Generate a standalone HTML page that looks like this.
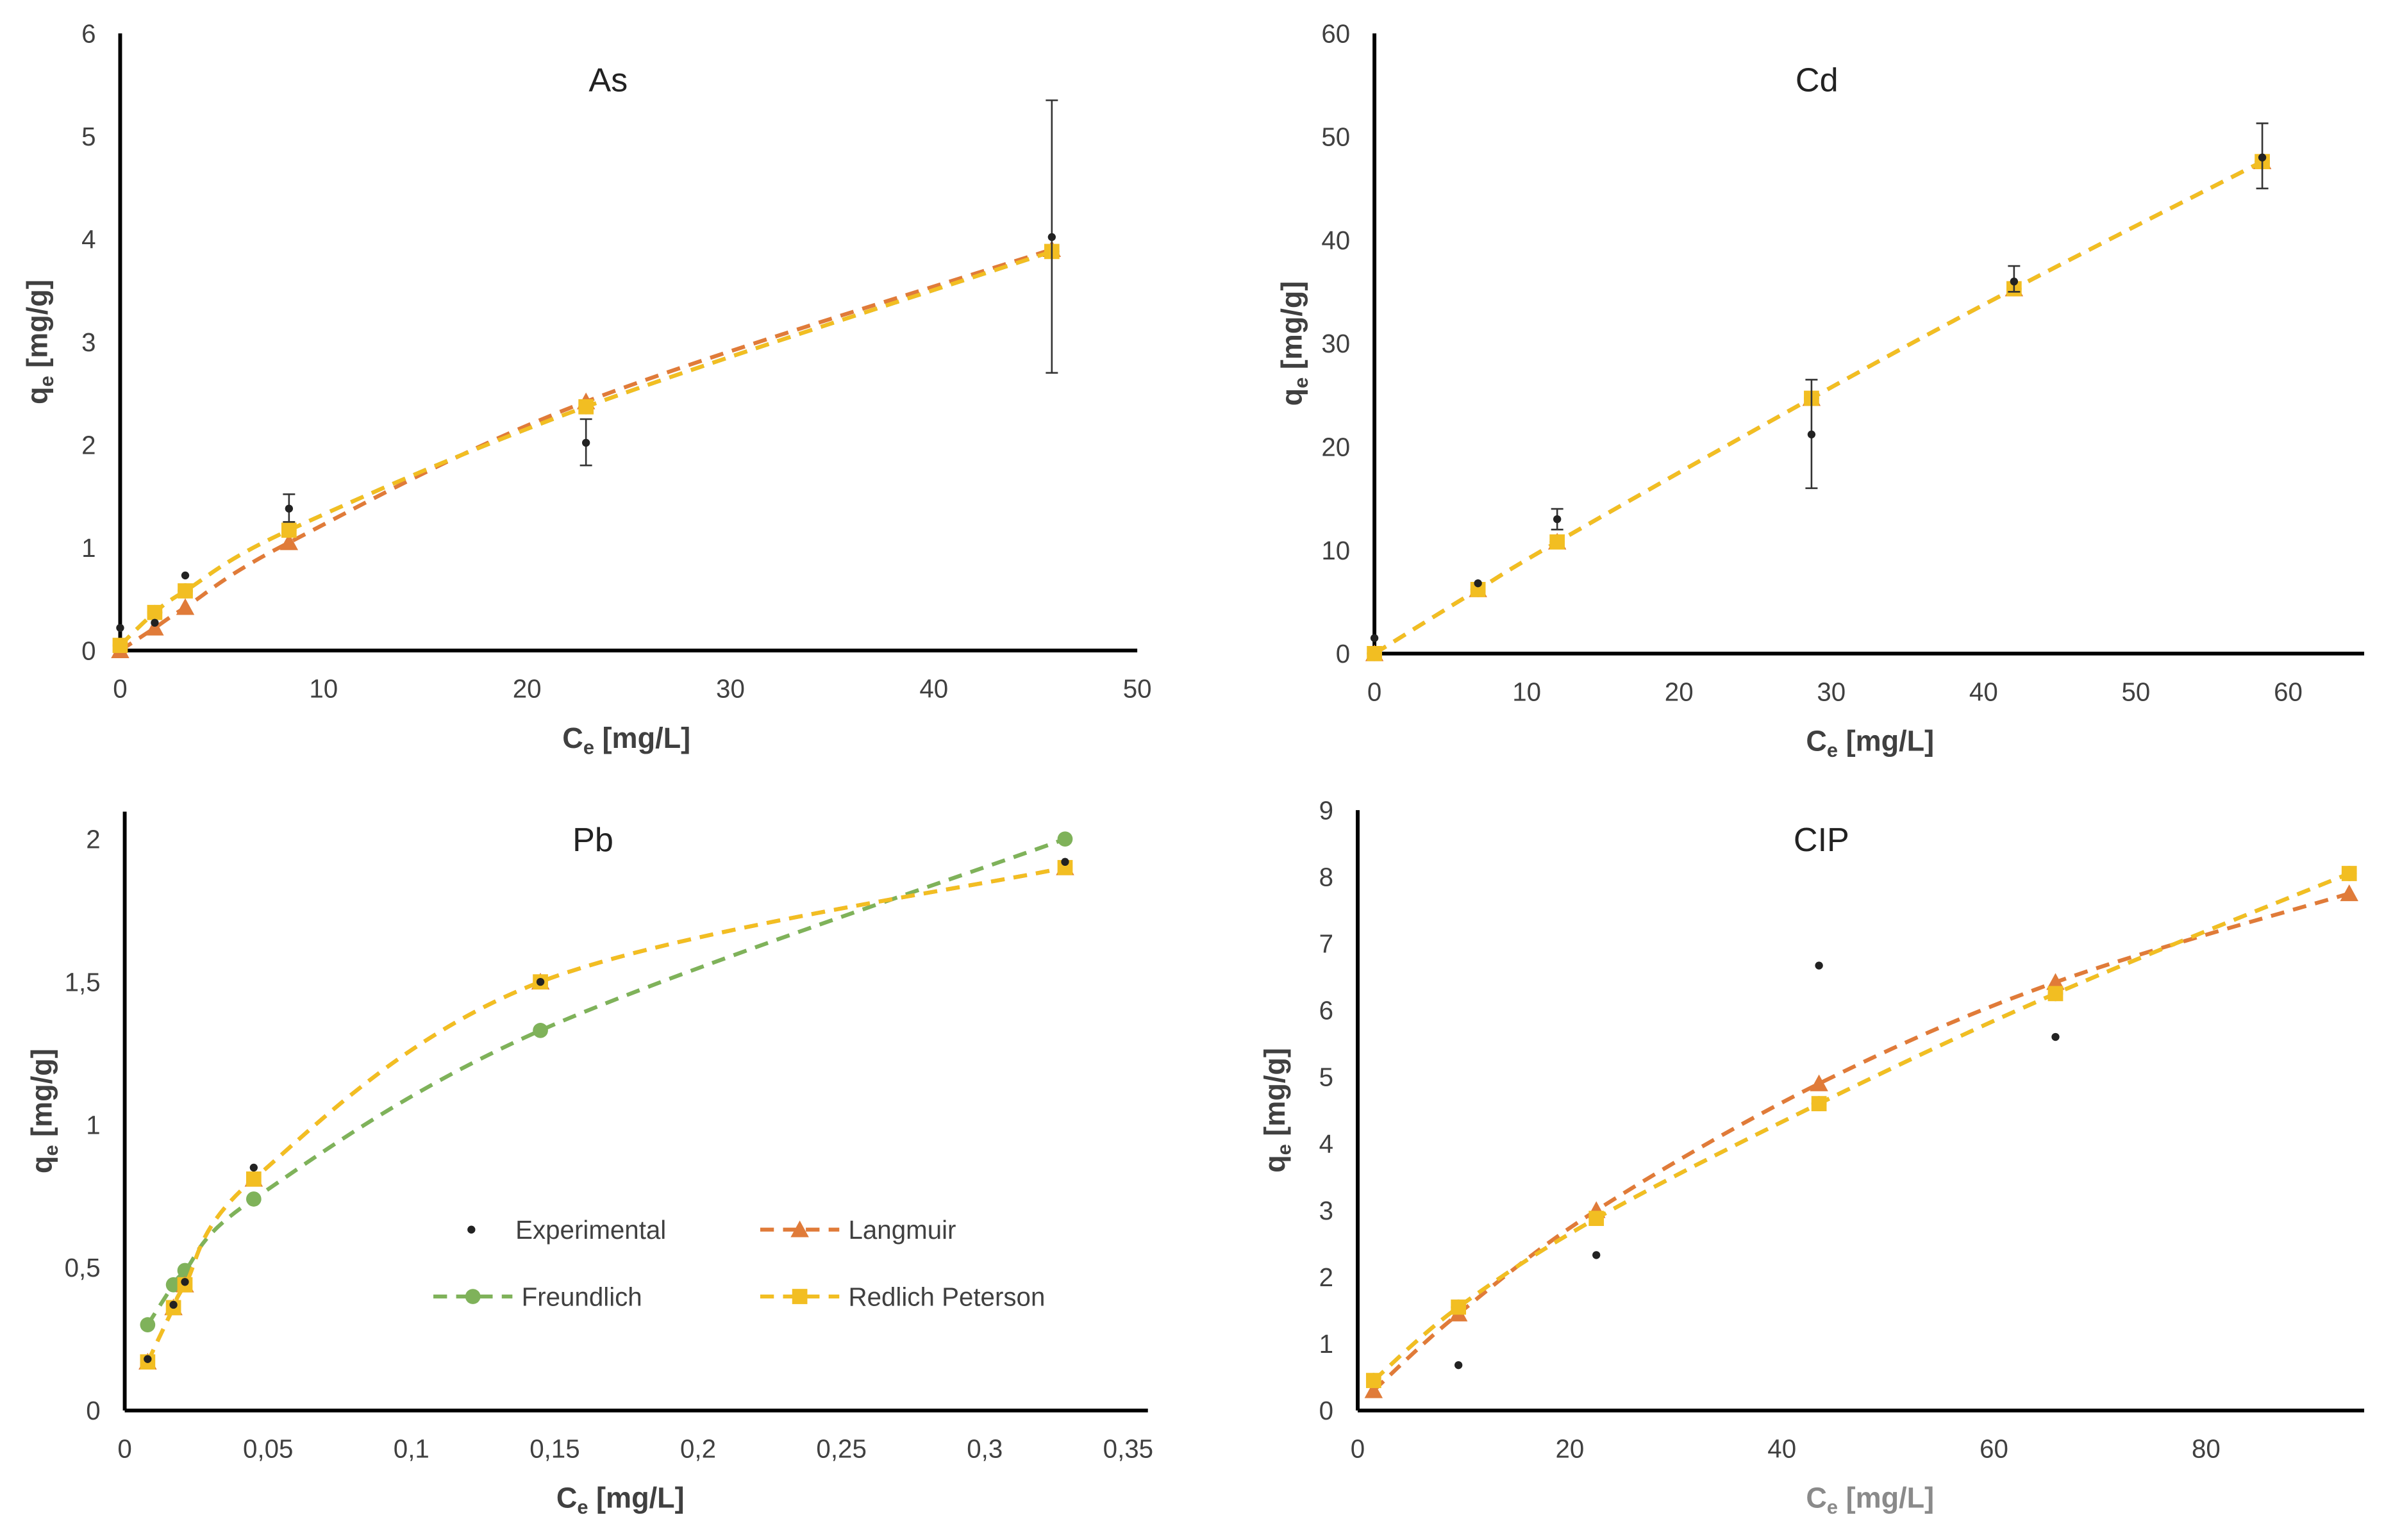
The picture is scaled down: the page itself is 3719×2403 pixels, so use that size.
<!DOCTYPE html>
<html><head><meta charset="utf-8"><style>
html,body{margin:0;padding:0;background:#fff}
svg{display:block}
text{font-family:"Liberation Sans",sans-serif}
</style></head><body>
<svg id="fig" xmlns="http://www.w3.org/2000/svg" width="3719" height="2403" viewBox="0 0 1568 1013.2"></svg>
<script>
// ---- data ----
const asX = [0, 1.7, 3.2, 8.3, 22.9, 45.8];
const asExp = [0.22, 0.27, 0.73, 1.38, 2.02, 4.02];
const asErrLo = [null, null, null, 1.25, 1.8, 2.7];
const asErrHi = [null, null, null, 1.52, 2.25, 5.35];
const asLang = [0, 0.22, 0.42, 1.05, 2.42, 3.9];
const asFreu = [0.05, 0.37, 0.58, 1.17, 2.37, 3.88];
const asRP = [0.05, 0.37, 0.58, 1.17, 2.37, 3.88];

const cdX = [0, 6.8, 12, 28.7, 42, 58.3];
const cdExp = [1.5, 6.8, 13, 21.2, 36, 48];
const cdErrLo = [null, null, 12, 16, 35, 45];
const cdErrHi = [null, null, 14, 26.5, 37.5, 51.3];
const cdLang = [0, 6.2, 10.8, 24.7, 35.3, 47.6];
const cdFreu = [0, 6.2, 10.8, 24.7, 35.3, 47.6];
const cdRP = [0, 6.2, 10.8, 24.7, 35.3, 47.6];

const pbX = [0.008, 0.017, 0.021, 0.045, 0.145, 0.328];
const pbExp = [0.18, 0.37, 0.45, 0.85, 1.5, 1.92];
const pbLang = [0.17, 0.36, 0.44, 0.81, 1.5, 1.9];
const pbFreu = [0.3, 0.44, 0.49, 0.74, 1.33, 2.0];
const pbRP = [0.17, 0.36, 0.44, 0.81, 1.5, 1.9];

const cipX = [1.5, 9.5, 22.5, 43.5, 65.8, 93.5];
const cipExp = [null, 0.68, 2.33, 6.67, 5.6, null];
const cipLang = [0.3, 1.45, 3.0, 4.9, 6.42, 7.75];
const cipFreu = [0.45, 1.55, 2.88, 4.6, 6.25, 8.05];
const cipRP = [0.45, 1.55, 2.88, 4.6, 6.25, 8.05];

const asXTicks = ["0","10","20","30","40","50"];
const asYTicks = ["0","1","2","3","4","5","6"];
const cdXTicks = ["0","10","20","30","40","50","60"];
const cdYTicks = ["0","10","20","30","40","50","60"];
const pbXTicks = ["0","0,05","0,1","0,15","0,2","0,25","0,3","0,35"];
const pbYTicks = ["0","0,5","1","1,5","2"];
const cipXTicks = ["0","20","40","60","80"];
const cipYTicks = ["0","1","2","3","4","5","6","7","8","9"];

const C = {lang:"#E07B39", freu:"#7FB25A", rp:"#F2BE22", exp:"#222"};
const NS = "http://www.w3.org/2000/svg";
const svg = document.getElementById('fig');
function el(tag, attrs, parent){
  const e = document.createElementNS(NS, tag);
  for (const k in attrs) e.setAttribute(k, attrs[k]);
  (parent||svg).appendChild(e); return e;
}
function catmull(pts){
  if(pts.length<2) return '';
  let d = 'M'+pts[0][0]+','+pts[0][1];
  for(let i=0;i<pts.length-1;i++){
    const p0=pts[Math.max(0,i-1)],p1=pts[i],p2=pts[i+1],p3=pts[Math.min(pts.length-1,i+2)];
    const c1=[p1[0]+(p2[0]-p0[0])/6,p1[1]+(p2[1]-p0[1])/6];
    const c2=[p2[0]-(p3[0]-p1[0])/6,p2[1]-(p3[1]-p1[1])/6];
    d+=' C'+c1[0]+','+c1[1]+' '+c2[0]+','+c2[1]+' '+p2[0]+','+p2[1];
  }
  return d;
}
function marker(g, kind, x, y){
  let m;
  if(kind==='lang'){ m = el('path',{d:`M${x},${y-6} L${x+6},${y+5} L${x-6},${y+5} Z`,fill:C.lang},g); }
  else if(kind==='freu'){ m = el('circle',{cx:x,cy:y,r:5,fill:C.freu},g); }
  else if(kind==='rp'){ m = el('rect',{x:x-5,y:y-5,width:10,height:10,fill:C.rp},g); }
  else { m = el('circle',{cx:x,cy:y,r:2.6,fill:C.exp},g); }
  
  
}
function panel(p){
  const g = el('g',{});
  
  
  const sx = v => p.x0 + (v - 0)/(p.xmaxTick)*(p.x1 - p.x0);
  const sy = v => p.y0 - v/(p.ymaxTick)*(p.y0 - p.y1);
  // tick labels
  p.xt.forEach((t,i)=>{
    const v = i*p.xmaxTick/(p.xt.length-1);
    const tx = el('text',{x:sx(v),y:p.y0+31,'text-anchor':'middle','font-size':17,fill:'#404040'},g);
    tx.textContent=t;
    
    
  });
  p.yt.forEach((t,i)=>{
    const v = i*p.ymaxTick/(p.yt.length-1);
    const ty = el('text',{x:p.x0-16,y:sy(v)+6,'text-anchor':'end','font-size':17,fill:'#404040'},g);
    ty.textContent=t;
    
    
  });
  // axes
  const ax = el('line',{x1:p.x0,y1:p.y0,x2:p.xend,y2:p.y0,stroke:'#000','stroke-width':2.5},g);
  
  
  const ay = el('line',{x1:p.x0,y1:p.y0,x2:p.x0,y2:p.ytop,stroke:'#000','stroke-width':2.5},g);
  
  
  // title
  const tt = el('text',{x:p.tx,y:p.ty,'text-anchor':'middle','font-size':22,fill:'#222'},g);
  tt.textContent=p.title;
  
  
  // axis titles
  const xtt = el('text',{x:p.xtx,y:p.y0+64,'text-anchor':'middle','font-size':19,'font-weight':'bold',fill:p.xtc||'#404040'},g);
  xtt.innerHTML='C<tspan font-size="13" dy="4">e</tspan><tspan dy="-4"> [mg/L]</tspan>';
  
  
  const ytt = el('text',{x:0,y:0,'text-anchor':'middle','font-size':19,'font-weight':'bold',fill:'#404040',transform:`translate(${p.x0-48},${(p.y0+p.ytop)/2}) rotate(-90)`},g);
  ytt.innerHTML='q<tspan font-size="13" dy="4">e</tspan><tspan dy="-4"> [mg/g]</tspan>';
  
  
  // series
  const series=[['freu',p.freu],['lang',p.lang],['rp',p.rp]];
  series.forEach(([k,arr])=>{
    const pts = p.xs.map((x,i)=>[sx(x),sy(arr[i])]);
    const path = el('path',{d:catmull(pts),fill:'none',stroke:C[k],'stroke-width':2.6,'stroke-dasharray':'9,6'},g);
    
    
    pts.forEach(q=>marker(g,k,q[0],q[1]));
  });
  // experimental + errors
  p.xs.forEach((x,i)=>{
    if(p.exp[i]==null) return;
    if(p.lo && p.lo[i]!=null){
      const X=sx(x), a=sy(p.lo[i]), b=sy(p.hi[i]);
      const eb = el('path',{d:`M${X},${a} L${X},${b} M${X-4},${a} L${X+4},${a} M${X-4},${b} L${X+4},${b}`,stroke:'#333','stroke-width':1.1,fill:'none'},g);
      
      
    }
    marker(g,'exp',sx(x),sy(p.exp[i]));
  });
}
panel({name:'as',title:'As',x0:79,x1:748,xend:748,xmaxTick:50,y0:428,y1:22,ytop:22,ymaxTick:6,xt:asXTicks,yt:asYTicks,tx:400,ty:60,xtx:412,
  xs:asX,exp:asExp,lo:asErrLo,hi:asErrHi,lang:asLang,freu:asFreu,rp:asRP});
panel({name:'cd',title:'Cd',x0:904,x1:1505,xend:1555,xmaxTick:60,y0:430,y1:22,ytop:22,ymaxTick:60,xt:cdXTicks,yt:cdYTicks,tx:1195,ty:60,xtx:1230,
  xs:cdX,exp:cdExp,lo:cdErrLo,hi:cdErrHi,lang:cdLang,freu:cdFreu,rp:cdRP});
panel({name:'pb',title:'Pb',x0:82,x1:742,xend:755,xmaxTick:0.35,y0:928,y1:552,ytop:534,ymaxTick:2,xt:pbXTicks,yt:pbYTicks,tx:390,ty:560,xtx:408,
  xs:pbX,exp:pbExp,lang:pbLang,freu:pbFreu,rp:pbRP});
panel({name:'cip',title:'CIP',x0:893,x1:1451,xend:1555,xmaxTick:80,y0:928,y1:533,ytop:533,ymaxTick:9,xt:cipXTicks,yt:cipYTicks,tx:1198,ty:560,xtx:1230,xtc:'#8a8a8a',
  xs:cipX,exp:cipExp,lang:cipLang,freu:cipFreu,rp:cipRP});

// legend
const lg = el('g',{});


const entries=[['exp','Experimental',310,809],['lang','Langmuir',500,809],['freu','Freundlich',285,853],['rp','Redlich Peterson',500,853]];
entries.forEach(([k,label,x,y])=>{
  const eg = el('g',{},lg);
  
  
  if(k!=='exp'){
    el('line',{x1:x,y1:y,x2:x+52,y2:y,stroke:C[k],'stroke-width':2.6,'stroke-dasharray':'9,6'},eg);
    marker(eg,k,x+26,y);
  } else marker(eg,'exp',x,y);
  const t = el('text',{x:k==='exp'?x+29:x+58,y:y+6,'font-size':17,fill:'#404040'},eg);
  t.textContent=label;
});
</script>
</body></html>
